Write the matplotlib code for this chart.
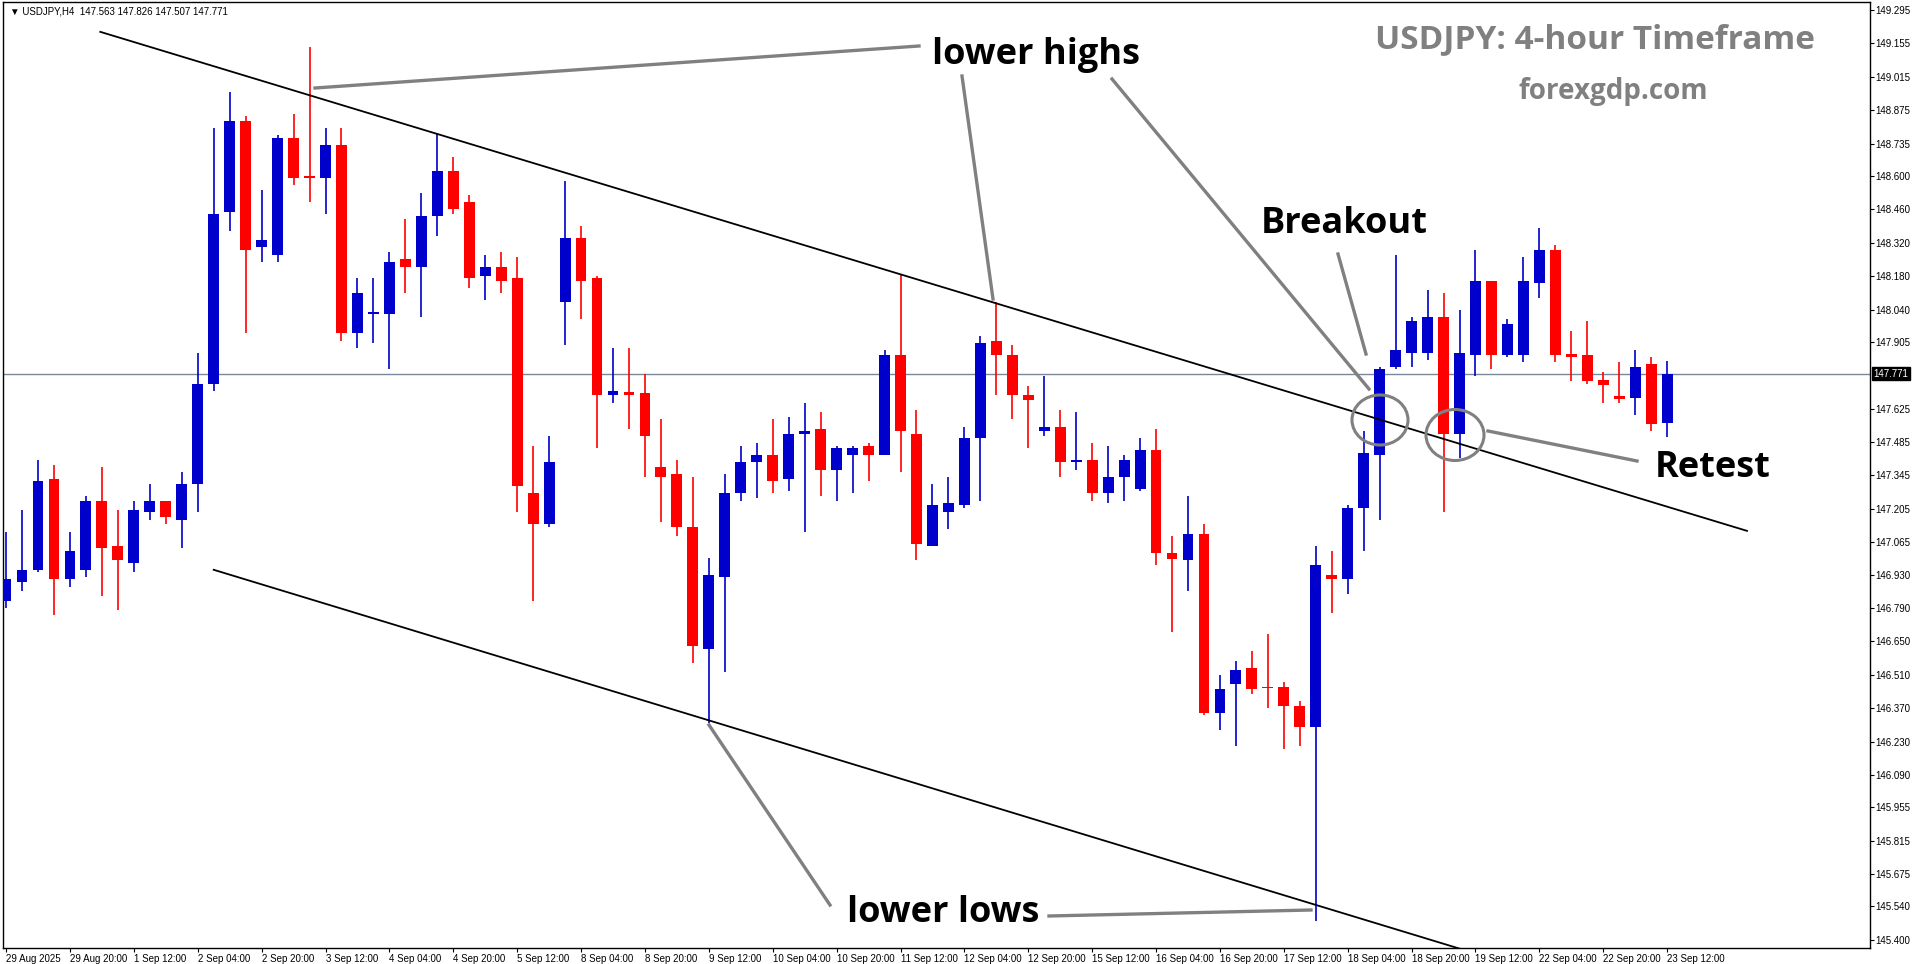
import matplotlib
matplotlib.use("Agg")
import matplotlib.pyplot as plt
from matplotlib.lines import Line2D
from matplotlib.patches import Ellipse
import numpy as np

# USDJPY H4 candles
opens = [146.82, 146.90, 146.95, 147.33, 146.91, 146.95, 147.24, 147.05, 146.98, 147.19,
         147.24, 147.16, 147.31, 147.73, 148.45, 148.83, 148.30, 148.27, 148.76, 148.595,
         148.59, 148.73, 147.94, 148.02, 148.02, 148.25, 148.22, 148.43, 148.62, 148.49,
         148.18, 148.22, 148.17, 147.27, 147.14, 148.07, 148.34, 148.17, 147.683, 147.693,
         147.69, 147.38, 147.35, 147.13, 146.62, 146.92, 147.27, 147.40, 147.43, 147.33,
         147.517, 147.54, 147.37, 147.43, 147.47, 147.43, 147.85, 147.52, 147.05, 147.19,
         147.22, 147.50, 147.91, 147.85, 147.68, 147.53, 147.55, 147.40, 147.41, 147.27,
         147.34, 147.29, 147.45, 147.02, 146.99, 147.10, 146.35, 146.47, 146.54, 146.456,
         146.46, 146.38, 146.29, 146.93, 146.91, 147.21, 147.43, 147.80, 147.86, 147.86,
         148.01, 147.52, 147.85, 148.16, 147.85, 147.85, 148.15, 148.29, 147.854, 147.85,
         147.745, 147.678, 147.67, 147.81, 147.563]
highs = [147.11, 147.20, 147.41, 147.39, 147.11, 147.26, 147.38, 147.20, 147.24, 147.31,
         147.24, 147.36, 147.86, 148.80, 148.95, 148.85, 148.54, 148.77, 148.86, 149.14,
         148.80, 148.80, 148.17, 148.17, 148.28, 148.42, 148.53, 148.78, 148.68, 148.52,
         148.27, 148.28, 148.26, 147.47, 147.51, 148.58, 148.39, 148.18, 147.88, 147.88,
         147.77, 147.58, 147.41, 147.34, 147.00, 147.35, 147.47, 147.48, 147.58, 147.59,
         147.65, 147.61, 147.47, 147.47, 147.48, 147.87, 148.19, 147.62, 147.31, 147.34,
         147.55, 147.93, 148.07, 147.89, 147.72, 147.76, 147.62, 147.61, 147.48, 147.47,
         147.43, 147.50, 147.54, 147.09, 147.26, 147.14, 146.51, 146.57, 146.61, 146.68,
         146.48, 146.40, 147.05, 147.03, 147.22, 147.53, 147.80, 148.27, 148.01, 148.12,
         148.11, 148.04, 148.29, 148.16, 148.00, 148.26, 148.38, 148.31, 147.95, 147.99,
         147.78, 147.82, 147.87, 147.84, 147.826]
lows = [146.79, 146.86, 146.94, 146.76, 146.88, 146.92, 146.84, 146.78, 146.94, 147.16,
        147.14, 147.04, 147.19, 147.70, 148.37, 147.94, 148.24, 148.24, 148.56, 148.49,
        148.44, 147.91, 147.88, 147.90, 147.79, 148.11, 148.01, 148.35, 148.44, 148.13,
        148.08, 148.11, 147.19, 146.82, 147.13, 147.89, 148.00, 147.46, 147.65, 147.54,
        147.34, 147.15, 147.09, 146.56, 146.31, 146.52, 147.24, 147.25, 147.27, 147.28,
        147.11, 147.26, 147.24, 147.27, 147.32, 147.43, 147.36, 146.99, 147.05, 147.12,
        147.21, 147.24, 147.68, 147.58, 147.46, 147.51, 147.34, 147.37, 147.24, 147.23,
        147.24, 147.28, 146.97, 146.69, 146.86, 146.34, 146.28, 146.21, 146.43, 146.37,
        146.20, 146.21, 145.48, 146.77, 146.85, 147.03, 147.16, 147.79, 147.80, 147.83,
        147.19, 147.42, 147.76, 147.79, 147.84, 147.82, 148.09, 147.82, 147.74, 147.73,
        147.65, 147.65, 147.60, 147.53, 147.507]
closes = [146.91, 146.95, 147.32, 146.91, 147.03, 147.24, 147.04, 146.99, 147.20, 147.24,
          147.17, 147.31, 147.73, 148.44, 148.83, 148.29, 148.33, 148.76, 148.59, 148.59,
          148.73, 147.94, 148.11, 148.03, 148.24, 148.22, 148.43, 148.62, 148.46, 148.17,
          148.22, 148.16, 147.30, 147.14, 147.40, 148.34, 148.16, 147.68, 147.699, 147.683,
          147.51, 147.34, 147.13, 146.63, 146.93, 147.27, 147.40, 147.43, 147.32, 147.52,
          147.532, 147.37, 147.46, 147.46, 147.43, 147.85, 147.53, 147.06, 147.22, 147.23,
          147.50, 147.90, 147.85, 147.68, 147.66, 147.55, 147.40, 147.41, 147.27, 147.34,
          147.41, 147.45, 147.02, 146.995, 147.10, 146.35, 146.45, 146.53, 146.45, 146.453,
          146.38, 146.29, 146.97, 146.91, 147.21, 147.44, 147.79, 147.87, 147.99, 148.01,
          147.52, 147.86, 148.16, 147.85, 147.98, 148.16, 148.29, 147.85, 147.843, 147.74,
          147.726, 147.667, 147.80, 147.56, 147.771]

date_labels = ["29 Aug 2025", "29 Aug 20:00", "1 Sep 12:00", "2 Sep 04:00", "2 Sep 20:00",
               "3 Sep 12:00", "4 Sep 04:00", "4 Sep 20:00", "5 Sep 12:00", "8 Sep 04:00",
               "8 Sep 20:00", "9 Sep 12:00", "10 Sep 04:00", "10 Sep 20:00", "11 Sep 12:00",
               "12 Sep 04:00", "12 Sep 20:00", "15 Sep 12:00", "16 Sep 04:00", "16 Sep 20:00",
               "17 Sep 12:00", "18 Sep 04:00", "18 Sep 20:00", "19 Sep 12:00", "22 Sep 04:00",
               "22 Sep 20:00", "23 Sep 12:00"]
price_ticks = [149.295, 149.155, 149.015, 148.875, 148.735, 148.600, 148.460, 148.320,
               148.180, 148.040, 147.905, 147.625, 147.485, 147.345, 147.205, 147.065,
               146.930, 146.790, 146.650, 146.510, 146.370, 146.230, 146.090, 145.955,
               145.815, 145.675, 145.540, 145.400]
last_price = 147.771

# channel lines (candle index, price)
upper_line = ([5.9, 109.0], [149.203, 147.113])
lower_line = ([13.0, 95.1], [146.95, 145.28])

W, H = 1916, 964
fig = plt.figure(figsize=(W / 100, H / 100), dpi=100)
ax = fig.add_axes([0.0015, 1 - 948 / H, 1870 / W - 0.0015, 946 / H])

o = np.array(opens); c = np.array(closes); h = np.array(highs); l = np.array(lows)
x = np.arange(len(o))
up = c >= o
cols = np.where(up, "#0000CC", "#FF0000")
bottom = np.minimum(o, c)
height = np.maximum(np.abs(c - o), 0.008)
ax.vlines(x, l, h, colors=cols, lw=1.2, zorder=2)
ax.bar(x, height, bottom=bottom, width=0.68, color=cols, zorder=3)

ax.plot(*upper_line, color="black", lw=1.3, zorder=4)
ax.plot(*lower_line, color="black", lw=1.3, zorder=4)
ax.axhline(last_price, color="#778899", lw=1, zorder=1)

small = ["Liberation Sans", "DejaVu Sans"]
ymin, ymax = 145.366, 149.328
ax.set_xlim(-0.2, 116.7)
ax.set_ylim(ymin, ymax)
ax.yaxis.tick_right()
ax.set_yticks(price_ticks)
ax.set_yticklabels([f"{p:.3f}" for p in price_ticks], fontsize=7, family=small)
ax.set_xticks(range(0, len(o), 4))
ax.set_xticklabels(date_labels, fontsize=7, ha="left", family=small)
ax.tick_params(axis="both", length=3, width=0.8, pad=1)
for s in ax.spines.values():
    s.set_color("black")
    s.set_linewidth(1)
ax.text(1.002, (last_price - ymin) / (ymax - ymin), f"{last_price:.3f}",
        transform=ax.transAxes, fontsize=7, color="white", va="center", ha="left",
        family=small, bbox=dict(boxstyle="square,pad=0.15", fc="black", ec="black"), zorder=6)
ax.text(0.004, 0.995, "\u25bc USDJPY,H4  147.563 147.826 147.507 147.771",
        transform=ax.transAxes, fontsize=7, va="top", ha="left", family=small)


def fp(px, py):
    return px / W, 1 - py / H


gray = "#808080"
pointers = [((315, 88), (919, 46)), ((962, 76), (993, 299)), ((1112, 79), (1369, 389)),
            ((1338, 254), (1366, 354)), ((1488, 431), (1637, 461)),
            ((709, 725), (830, 905)), ((1049, 916), (1311, 910))]
for a, b in pointers:
    (x0, y0), (x1, y1) = fp(*a), fp(*b)
    fig.add_artist(Line2D([x0, x1], [y0, y1], color=gray, lw=2.4))

for cx, cy, w, hh in [(1380, 420, 56, 50), (1455, 435, 58, 51)]:
    fig.add_artist(Ellipse(fp(cx, cy), w / W, hh / H, fill=False, ec=gray, lw=2.2))

font = ["Open Sans", "DejaVu Sans"]
labels = [("lower highs", 1036, 55, "black", 26), ("Breakout", 1344, 224, "black", 26),
          ("Retest", 1713, 468, "black", 26), ("lower lows", 943, 913, "black", 26),
          ("USDJPY: 4-hour Timeframe", 1595, 40, gray, 24), ("forexgdp.com", 1613, 91, gray, 20)]
for txt, px, py, col, fs in labels:
    fig.text(*fp(px, py), txt, color=col, fontsize=fs, fontweight="bold",
             family=font, ha="center", va="center")

fig.savefig("out.png", dpi=100, facecolor="white")
